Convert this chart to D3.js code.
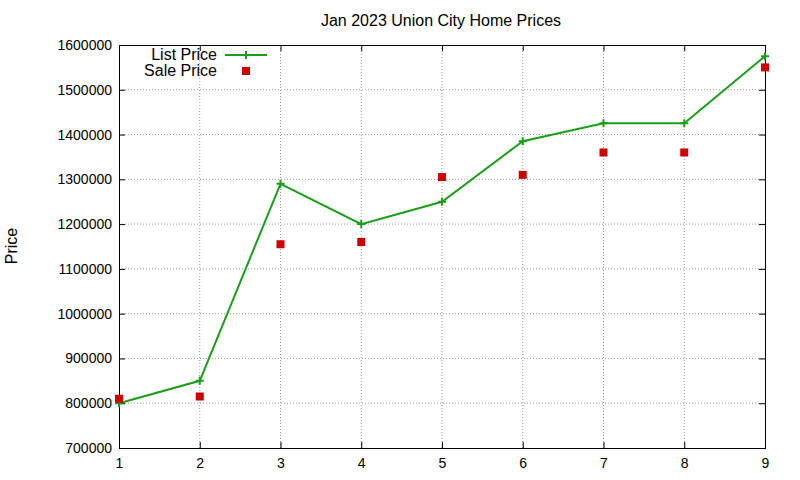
<!DOCTYPE html>
<html><head><meta charset="utf-8">
<script src="https://cdn.jsdelivr.net/npm/d3@7"></script>
<style>body{margin:0;background:#fff}text{font-family:"Liberation Sans",Arial,sans-serif;font-size:16px}</style>
</head><body><div id="chart"></div>
<script>
const houses = [1, 2, 3, 4, 5, 6, 7, 8, 9];
const listPrice = [800000, 850000, 1290000, 1200000, 1250000, 1385000, 1425000, 1425000, 1575000];
const salePrice = [810000, 815000, 1155000, 1160000, 1305000, 1310000, 1360000, 1360000, 1550000];
const yTicks = [700000, 800000, 900000, 1000000, 1100000, 1200000, 1300000, 1400000, 1500000, 1600000];

const W = 800, H = 480;
const margin = { top: 45, bottom: 32, left: 119, right: 35 };
const svg = d3.select('#chart').append('svg').attr('width', W).attr('height', H);

const x = d3.scaleLinear().domain([1, 9]).range([margin.left, W - margin.right]);
const y = d3.scaleLinear().domain([700000, 1600000]).range([H - margin.bottom, margin.top]);

// grid
svg.append('g').selectAll('line').data(houses.slice(1, -1)).join('line')
    .attr('x1', d => x(d)).attr('x2', d => x(d)).attr('y1', y(700000)).attr('y2', y(1600000))
    .attr('stroke', '#999').attr('stroke-dasharray', '1,2');
svg.append('g').selectAll('line').data(yTicks.slice(1, -1)).join('line')
    .attr('x1', x(1)).attr('x2', x(9)).attr('y1', d => y(d)).attr('y2', d => y(d))
    .attr('stroke', '#999').attr('stroke-dasharray', '1,2');

// axes with inward ticks
svg.append('g').attr('transform', `translate(0,${y(700000)})`)
    .call(d3.axisBottom(x).tickValues(houses).tickSize(-6).tickPadding(10).tickFormat(d3.format('d')));
svg.append('g').attr('transform', `translate(${x(1)},0)`)
    .call(d3.axisLeft(y).tickValues(yTicks).tickSize(-6).tickPadding(7).tickFormat(d3.format('d')));
svg.append('g').attr('transform', `translate(0,${y(1600000)})`)
    .call(d3.axisTop(x).tickValues(houses).tickSize(-6).tickFormat(''));
svg.append('g').attr('transform', `translate(${x(9)},0)`)
    .call(d3.axisRight(y).tickValues(yTicks).tickSize(-6).tickFormat(''));
svg.selectAll('.domain').attr('stroke', '#000');
svg.selectAll('.tick line').attr('stroke', '#000');
svg.selectAll('.tick text').style('font-size', '14px').attr('fill', '#000');

// list price line
const green = '#1a9e1a';
svg.append('path').datum(houses)
    .attr('d', d3.line().x(d => x(d)).y((d, i) => y(listPrice[i])))
    .attr('fill', 'none').attr('stroke', green).attr('stroke-width', 2);
const plus = (g, cx, cy) => g.append('path')
    .attr('d', `M${cx - 4},${cy}H${cx + 4}M${cx},${cy - 4}V${cy + 4}`)
    .attr('stroke', green).attr('stroke-width', 2);
houses.forEach((d, i) => plus(svg, x(d), y(listPrice[i])));

// sale price squares
svg.append('g').selectAll('rect').data(houses).join('rect')
    .attr('x', d => x(d) - 4).attr('y', (d, i) => y(salePrice[i]) - 4)
    .attr('width', 8).attr('height', 8).attr('fill', '#cc0000');

// legend
svg.append('text').attr('x', 217).attr('y', 60).attr('text-anchor', 'end').text('List Price');
svg.append('line').attr('x1', 225).attr('x2', 267).attr('y1', 55).attr('y2', 55).attr('stroke', green).attr('stroke-width', 2);
plus(svg, 246, 55);
svg.append('text').attr('x', 217).attr('y', 76).attr('text-anchor', 'end').text('Sale Price');
svg.append('rect').attr('x', 242).attr('y', 67).attr('width', 8).attr('height', 8).attr('fill', '#cc0000');

// titles
svg.append('text').attr('x', 441).attr('y', 26).attr('text-anchor', 'middle').text('Jan 2023 Union City Home Prices');
svg.append('text').attr('transform', 'translate(17,246) rotate(-90)').attr('text-anchor', 'middle').text('Price');
</script></body></html>
